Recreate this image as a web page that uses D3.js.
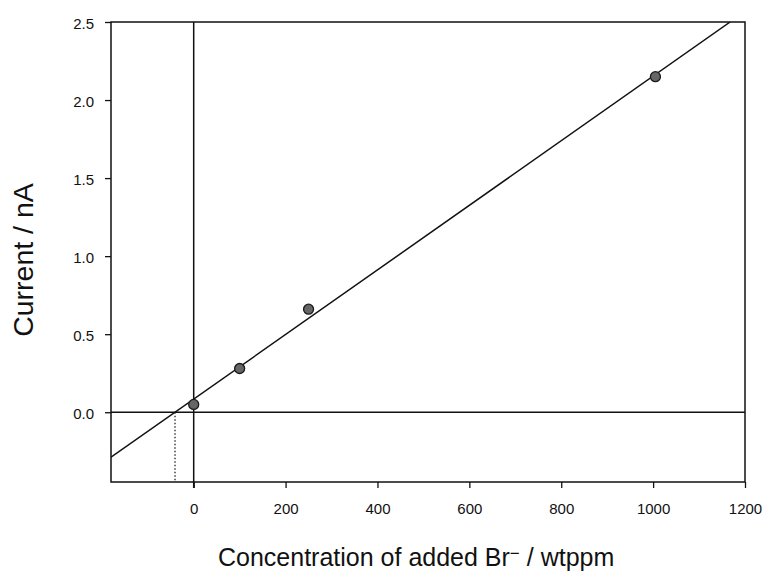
<!DOCTYPE html>
<html>
<head>
<meta charset="utf-8">
<script src="https://cdn.jsdelivr.net/npm/d3@7"></script>
<style>
  body { margin: 0; background: #fff; }
  svg { display: block; font-family: Arial, "Liberation Sans", sans-serif; }
</style>
</head>
<body>
<svg id="chart" width="769" height="572"></svg>
<script>
// Measured current vs. concentration of added bromide (standard additions)
const concentration = [0, 100, 250, 1005];
const current = [0.05, 0.28, 0.66, 2.15];
const xTicks = [0, 200, 400, 600, 800, 1000, 1200];
const yTicks = [0.0, 0.5, 1.0, 1.5, 2.0, 2.5];

const svg = d3.select("#chart");

const x = d3.scaleLinear().domain([-180, 1200]).range([111, 745]);
const y = d3.scaleLinear().domain([-0.447, 2.5]).range([482, 22]);

// least-squares fit through the points
const mx = d3.mean(concentration), my = d3.mean(current);
let sxy = 0, sxx = 0;
concentration.forEach((c, i) => { sxy += (c - mx) * (current[i] - my); sxx += (c - mx) ** 2; });
const slope = sxy / sxx;
const intercept = my - slope * mx;
const xIntercept = -intercept / slope;

const defs = svg.append("defs");
defs.append("clipPath").attr("id", "plot")
  .append("rect")
  .attr("x", x.range()[0]).attr("y", y.range()[1])
  .attr("width", x.range()[1] - x.range()[0]).attr("height", y.range()[0] - y.range()[1]);

// axes
const xAxis = svg.append("g").attr("transform", `translate(0,${y.range()[0]})`)
  .call(d3.axisBottom(x).tickValues(xTicks).tickFormat(d3.format("d")).tickSize(6).tickPadding(15));
const yAxis = svg.append("g").attr("transform", `translate(${x.range()[0]},0)`)
  .call(d3.axisLeft(y).tickValues(yTicks).tickFormat(d3.format(".1f")).tickSize(6).tickPadding(11));
[xAxis, yAxis].forEach(g => {
  g.select(".domain").remove();
  g.selectAll("line").attr("stroke", "#111").attr("stroke-width", 1.3);
  g.selectAll("text").attr("font-size", 15).attr("fill", "#111")
    .attr("font-family", "Arial, 'Liberation Sans', sans-serif");
});
yAxis.selectAll("text").attr("dy", "0.45em");

// frame
svg.append("rect")
  .attr("x", x.range()[0]).attr("y", y.range()[1])
  .attr("width", x.range()[1] - x.range()[0]).attr("height", y.range()[0] - y.range()[1])
  .attr("fill", "none").attr("stroke", "#111").attr("stroke-width", 1.5);

const plot = svg.append("g").attr("clip-path", "url(#plot)");

// zero lines
plot.append("line")
  .attr("x1", x.range()[0]).attr("x2", x.range()[1])
  .attr("y1", y(0)).attr("y2", y(0))
  .attr("stroke", "#111").attr("stroke-width", 1.5);
svg.append("line")
  .attr("x1", x(0)).attr("x2", x(0))
  .attr("y1", y.range()[1]).attr("y2", y.range()[0] + 6)
  .attr("stroke", "#111").attr("stroke-width", 1.5);

// extrapolated intercept
plot.append("line")
  .attr("x1", x(xIntercept)).attr("x2", x(xIntercept))
  .attr("y1", y(0)).attr("y2", y.range()[0])
  .attr("stroke", "#111").attr("stroke-width", 1.2).attr("stroke-dasharray", "1.5,2");

// regression line
const xEnd = (2.5 - intercept) / slope;
plot.append("line")
  .attr("x1", x(-180)).attr("y1", y(intercept + slope * -180))
  .attr("x2", x(xEnd)).attr("y2", y(2.5))
  .attr("stroke", "#111").attr("stroke-width", 1.5);

// data points
svg.append("g").selectAll("circle")
  .data(concentration.map((c, i) => [c, current[i]]))
  .join("circle")
  .attr("cx", d => x(d[0])).attr("cy", d => y(d[1]))
  .attr("r", 5)
  .attr("fill", "#666").attr("stroke", "#1a1a1a").attr("stroke-width", 1.3);

// axis titles
svg.append("text")
  .attr("x", 218).attr("y", 566)
  .attr("text-anchor", "start").attr("font-size", 25).attr("fill", "#111")
  .html('Concentration of added Br<tspan dy="-7" font-size="17">\u2212</tspan><tspan dy="7"> / wtppm</tspan>');
svg.append("text")
  .attr("transform", "translate(33,260) rotate(-90)")
  .attr("text-anchor", "middle").attr("font-size", 28.5).attr("fill", "#111")
  .text("Current / nA");
</script>
</body>
</html>
